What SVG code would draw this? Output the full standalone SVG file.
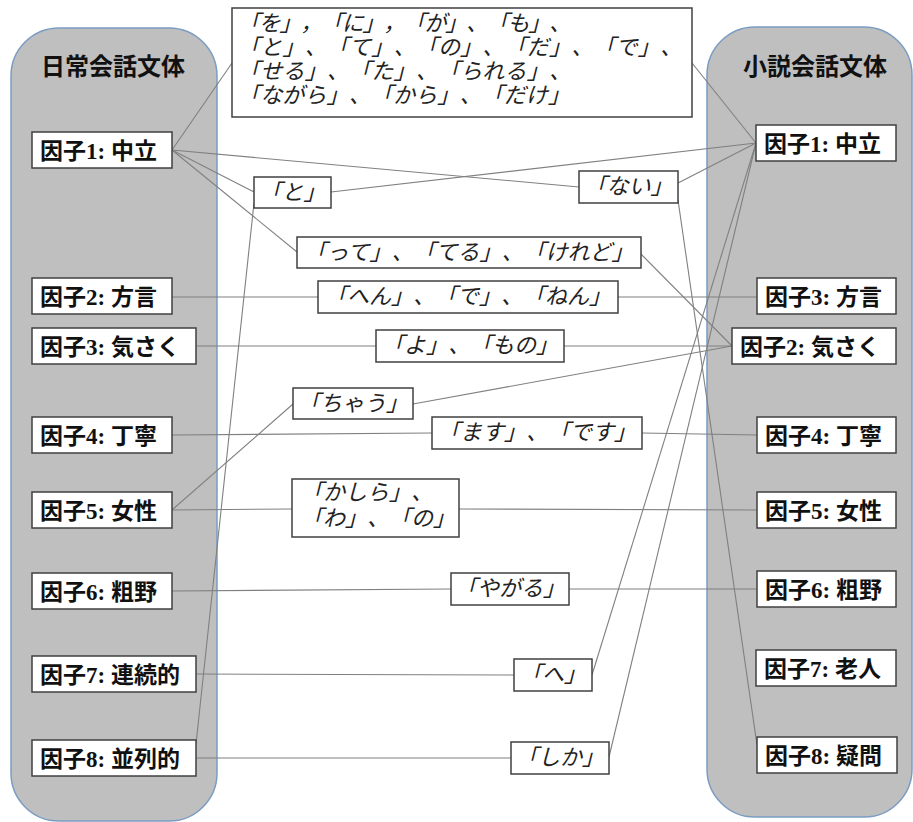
<svg xmlns="http://www.w3.org/2000/svg" width="913" height="822" viewBox="0 0 913 822">
  <style>
    .panel { fill: #bfbfbf; stroke: #7b9cc2; stroke-width: 1.5; }
    .box { fill: #ffffff; stroke: #404040; stroke-width: 1.5; }
    .link { stroke: #808080; stroke-width: 1.1; fill: none; }
    .title { font-family: "Noto Sans CJK JP", sans-serif; font-weight: bold; font-size: 24px; fill: #111; text-anchor: middle; }
    .factor { font-family: "Liberation Serif", "Noto Sans CJK JP", serif; font-weight: bold; font-size: 23px; fill: #111; }
    .word { font-family: "Noto Sans CJK JP", sans-serif; font-style: italic; font-size: 22px; fill: #222; text-spacing-trim: space-all; }
    .mid { text-anchor: middle; }
  </style>

  <!-- two style panels -->
  <g id="panel-daily">
    <rect class="panel" x="11" y="28" width="206" height="793" rx="48" ry="48"/>
    <text class="title" x="113" y="75">日常会話文体</text>
  </g>
  <g id="panel-novel">
    <rect class="panel" x="707" y="27" width="205" height="790" rx="48" ry="48"/>
    <text class="title" x="815" y="75">小説会話文体</text>
  </g>

  <!-- connectors between factors and function words -->
  <g id="connectors">
    <line class="link" x1="172" y1="150" x2="232" y2="63"/>
    <line class="link" x1="172" y1="150" x2="254" y2="192"/>
    <line class="link" x1="172" y1="150" x2="297" y2="252"/>
    <line class="link" x1="172" y1="150" x2="579" y2="187"/>
    <line class="link" x1="331" y1="192" x2="756" y2="143"/>
    <line class="link" x1="678" y1="183" x2="756" y2="143"/>
    <line class="link" x1="692" y1="63" x2="756" y2="143"/>
    <line class="link" x1="254" y1="203" x2="196" y2="744"/>
    <line class="link" x1="756" y1="143" x2="592" y2="675"/>
    <line class="link" x1="756" y1="143" x2="609" y2="757"/>
    <line class="link" x1="678" y1="200" x2="757" y2="745"/>
    <line class="link" x1="641" y1="254" x2="732" y2="346"/>
    <line class="link" x1="172" y1="297" x2="318" y2="297"/>
    <line class="link" x1="618" y1="297" x2="757" y2="297"/>
    <line class="link" x1="196" y1="346" x2="376" y2="346"/>
    <line class="link" x1="564" y1="346" x2="732" y2="346"/>
    <line class="link" x1="413" y1="404" x2="732" y2="346"/>
    <line class="link" x1="172" y1="510" x2="293" y2="404"/>
    <line class="link" x1="172" y1="435" x2="432" y2="433"/>
    <line class="link" x1="642" y1="433" x2="757" y2="435"/>
    <line class="link" x1="172" y1="510" x2="292" y2="509"/>
    <line class="link" x1="459" y1="509" x2="757" y2="510"/>
    <line class="link" x1="172" y1="591" x2="451" y2="589"/>
    <line class="link" x1="569" y1="589" x2="757" y2="589"/>
    <line class="link" x1="196" y1="674" x2="514" y2="675"/>
    <line class="link" x1="196" y1="758" x2="511" y2="758"/>
  </g>

  <!-- factors of everyday conversation style -->
  <g id="d1"><rect class="box" x="32" y="132" width="140" height="36"/><text class="factor" x="40" y="159">因子1: 中立</text></g>
  <g id="d2"><rect class="box" x="32" y="278" width="140" height="36"/><text class="factor" x="40" y="305">因子2: 方言</text></g>
  <g id="d3"><rect class="box" x="32" y="328" width="164" height="36"/><text class="factor" x="40" y="355">因子3: 気さく</text></g>
  <g id="d4"><rect class="box" x="32" y="417" width="140" height="36"/><text class="factor" x="40" y="444">因子4: 丁寧</text></g>
  <g id="d5"><rect class="box" x="32" y="492" width="140" height="36"/><text class="factor" x="40" y="519">因子5: 女性</text></g>
  <g id="d6"><rect class="box" x="32" y="573" width="140" height="36"/><text class="factor" x="40" y="600">因子6: 粗野</text></g>
  <g id="d7"><rect class="box" x="32" y="656" width="164" height="36"/><text class="factor" x="40" y="683">因子7: 連続的</text></g>
  <g id="d8"><rect class="box" x="32" y="740" width="164" height="36"/><text class="factor" x="40" y="767">因子8: 並列的</text></g>

  <!-- factors of novel conversation style -->
  <g id="n1"><rect class="box" x="756" y="125" width="140" height="36"/><text class="factor" x="764" y="152">因子1: 中立</text></g>
  <g id="n3"><rect class="box" x="757" y="278" width="139" height="36"/><text class="factor" x="765" y="305">因子3: 方言</text></g>
  <g id="n2"><rect class="box" x="732" y="328" width="164" height="36"/><text class="factor" x="740" y="355">因子2: 気さく</text></g>
  <g id="n4"><rect class="box" x="757" y="417" width="139" height="36"/><text class="factor" x="765" y="444">因子4: 丁寧</text></g>
  <g id="n5"><rect class="box" x="757" y="492" width="139" height="36"/><text class="factor" x="765" y="519">因子5: 女性</text></g>
  <g id="n6"><rect class="box" x="757" y="571" width="139" height="36"/><text class="factor" x="765" y="598">因子6: 粗野</text></g>
  <g id="n7"><rect class="box" x="756" y="650" width="140" height="36"/><text class="factor" x="764" y="677">因子7: 老人</text></g>
  <g id="n8"><rect class="box" x="757" y="737" width="140" height="36"/><text class="factor" x="765" y="764">因子8: 疑問</text></g>

  <!-- function words -->
  <g id="w-common">
    <rect class="box" x="232" y="8" width="460" height="109"/>
    <text class="word" x="238" y="31" textLength="333">「を」，「に」，「が」、「も」、</text>
    <text class="word" x="238" y="55" textLength="444">「と」、「て」、「の」、「だ」、「で」、</text>
    <text class="word" x="238" y="79" textLength="333">「せる」、「た」、「られる」、</text>
    <text class="word" x="238" y="103" textLength="332">「ながら」、「から」、「だけ」</text>
  </g>
  <g id="w-to"><rect class="box" x="254" y="177" width="77" height="31"/><text class="word mid" x="292.5" y="200">「と」</text></g>
  <g id="w-nai"><rect class="box" x="579" y="171" width="99" height="32"/><text class="word mid" x="628.5" y="194">「ない」</text></g>
  <g id="w-tte"><rect class="box" x="297" y="237" width="344" height="31"/><text class="word mid" x="469" y="260">「って」、「てる」、「けれど」</text></g>
  <g id="w-hen"><rect class="box" x="318" y="281" width="300" height="32"/><text class="word mid" x="468" y="304">「へん」、「で」、「ねん」</text></g>
  <g id="w-yo"><rect class="box" x="376" y="330" width="188" height="32"/><text class="word mid" x="470" y="353">「よ」、「もの」</text></g>
  <g id="w-chau"><rect class="box" x="293" y="388" width="120" height="31"/><text class="word mid" x="353" y="411">「ちゃう」</text></g>
  <g id="w-masu"><rect class="box" x="432" y="417" width="210" height="32"/><text class="word mid" x="537" y="440">「ます」、「です」</text></g>
  <g id="w-kashira">
    <rect class="box" x="292" y="479" width="167" height="58"/>
    <text class="word" x="301" y="500">「かしら」、</text>
    <text class="word" x="301" y="526">「わ」、「の」</text>
  </g>
  <g id="w-yagaru"><rect class="box" x="451" y="573" width="118" height="32"/><text class="word mid" x="510" y="596">「やがる」</text></g>
  <g id="w-he"><rect class="box" x="514" y="659" width="78" height="32"/><text class="word mid" x="553" y="682">「へ」</text></g>
  <g id="w-shika"><rect class="box" x="511" y="742" width="98" height="32"/><text class="word mid" x="560" y="765">「しか」</text></g>
</svg>
